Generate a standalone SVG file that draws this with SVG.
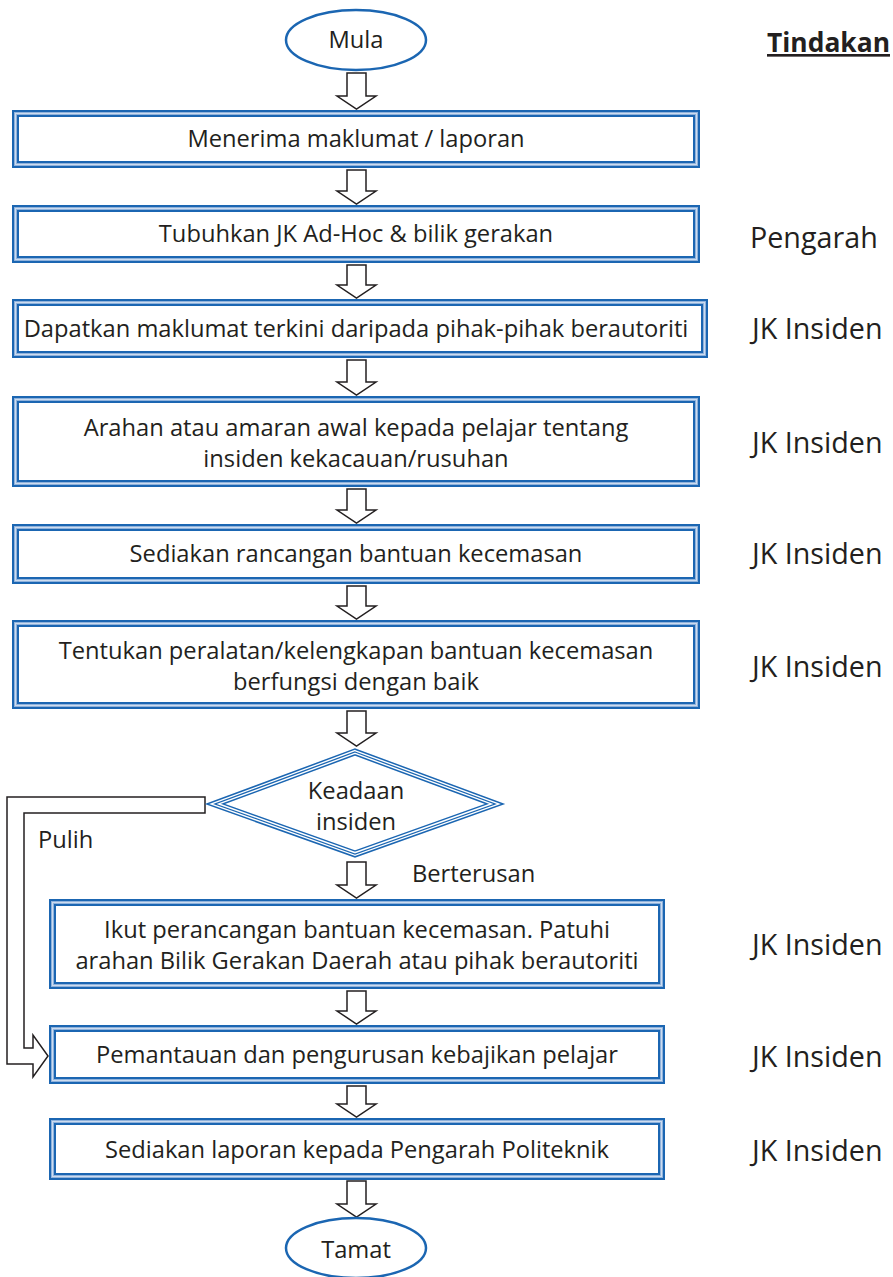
<svg xmlns="http://www.w3.org/2000/svg" width="893" height="1277" viewBox="0 0 893 1277">
<style>
text{font-family:"Open Sans","Noto Sans","Liberation Sans",sans-serif;font-size:23.7px;fill:#231f20}
.c{text-anchor:middle}
.r{font-size:28.7px}
.b1{fill:none;stroke:#1b66b2;stroke-width:7}
.b2{fill:none;stroke:#8fb2dc;stroke-width:3}
.b3{fill:none;stroke:#cddcef;stroke-width:1}
.d1{fill:#fff;stroke:#1b66b2;stroke-width:7;stroke-linejoin:miter}
.d2{fill:none;stroke:#fff;stroke-width:4}
.d3{fill:none;stroke:#1b66b2;stroke-width:1.3}
.el{fill:#fff;stroke:#1b66b2;stroke-width:2.5}
.ar{fill:#fff;stroke:#231f20;stroke-width:1.5;stroke-linejoin:miter}
</style>
<g id="connectors">
<polygon class="ar" points="347,73 366,73 366,96 376,96 356.5,109 337,96 347,96"/>
<polygon class="ar" points="347,170 366,170 366,191 376,191 356.5,204 337,191 347,191"/>
<polygon class="ar" points="347,265 366,265 366,285 376,285 356.5,298 337,285 347,285"/>
<polygon class="ar" points="347,360 366,360 366,382 376,382 356.5,395 337,382 347,382"/>
<polygon class="ar" points="347,489 366,489 366,510 376,510 356.5,523 337,510 347,510"/>
<polygon class="ar" points="347,586 366,586 366,606 376,606 356.5,619 337,606 347,606"/>
<polygon class="ar" points="347,711 366,711 366,733 376,733 356.5,746 337,733 347,733"/>
<polygon class="ar" points="347,862 366,862 366,885 376,885 356.5,898 337,885 347,885"/>
<polygon class="ar" points="347,991 366,991 366,1011 376,1011 356.5,1024 337,1011 347,1011"/>
<polygon class="ar" points="347,1086 366,1086 366,1104 376,1104 356.5,1117 337,1104 347,1104"/>
<polygon class="ar" points="347,1181 366,1181 366,1204 376,1204 356.5,1217 337,1204 347,1204"/>
<polygon class="ar" points="205,797 7,797 7,1064 33,1064 33,1077 48,1056 33,1035 33,1048 24,1048 24,813 205,813"/>
<text x="38" y="848">Pulih</text>
<text x="412" y="882">Berterusan</text>
</g>
<g id="mula">
<ellipse class="el" cx="356" cy="40" rx="70" ry="30"/>
<text class="c" x="356" y="48">Mula</text>
</g>
<g id="tindakan">
<text x="767" y="52" style="font-size:26.4px;font-weight:bold;text-decoration:underline">Tindakan</text>
</g>
<g id="box1">
<rect class="b1" x="15.5" y="113.5" width="681" height="51"/>
<rect class="b2" x="15.5" y="113.5" width="681" height="51"/>
<rect class="b3" x="15.5" y="113.5" width="681" height="51"/>
<text class="c" x="356" y="147">Menerima maklumat / laporan</text>
</g>
<g id="box2">
<rect class="b1" x="15.5" y="208.5" width="681" height="51"/>
<rect class="b2" x="15.5" y="208.5" width="681" height="51"/>
<rect class="b3" x="15.5" y="208.5" width="681" height="51"/>
<text class="c" x="356" y="242">Tubuhkan JK Ad-Hoc &amp; bilik gerakan</text>
<text class="r" x="750" y="248">Pengarah</text>
</g>
<g id="box3">
<rect class="b1" x="15.5" y="302.5" width="689" height="52"/>
<rect class="b2" x="15.5" y="302.5" width="689" height="52"/>
<rect class="b3" x="15.5" y="302.5" width="689" height="52"/>
<text class="c" x="356" y="337">Dapatkan maklumat terkini daripada pihak-pihak berautoriti</text>
<text class="r" x="752" y="339">JK Insiden</text>
</g>
<g id="box4">
<rect class="b1" x="15.5" y="399.5" width="681" height="84"/>
<rect class="b2" x="15.5" y="399.5" width="681" height="84"/>
<rect class="b3" x="15.5" y="399.5" width="681" height="84"/>
<text class="c" x="356" y="436">Arahan atau amaran awal kepada pelajar tentang</text>
<text class="c" x="356" y="467">insiden kekacauan/rusuhan</text>
<text class="r" x="752" y="453">JK Insiden</text>
</g>
<g id="box5">
<rect class="b1" x="15.5" y="527.5" width="681" height="53"/>
<rect class="b2" x="15.5" y="527.5" width="681" height="53"/>
<rect class="b3" x="15.5" y="527.5" width="681" height="53"/>
<text class="c" x="356" y="562">Sediakan rancangan bantuan kecemasan</text>
<text class="r" x="752" y="564">JK Insiden</text>
</g>
<g id="box6">
<rect class="b1" x="15.5" y="623.5" width="681" height="82"/>
<rect class="b2" x="15.5" y="623.5" width="681" height="82"/>
<rect class="b3" x="15.5" y="623.5" width="681" height="82"/>
<text class="c" x="356" y="659">Tentukan peralatan/kelengkapan bantuan kecemasan</text>
<text class="c" x="356" y="690">berfungsi dengan baik</text>
<text class="r" x="752" y="677">JK Insiden</text>
</g>
<g id="diamond">
<polygon class="d1" points="355,752 495,804 355,854 215,804"/>
<polygon class="d2" points="355,752 495,804 355,854 215,804"/>
<polygon class="d3" points="355,752 495,804 355,854 215,804"/>
<text class="c" x="356" y="799">Keadaan</text>
<text class="c" x="356" y="830">insiden</text>
</g>
<g id="box7">
<rect class="b1" x="52.5" y="902.5" width="609" height="83"/>
<rect class="b2" x="52.5" y="902.5" width="609" height="83"/>
<rect class="b3" x="52.5" y="902.5" width="609" height="83"/>
<text class="c" x="357" y="938">Ikut perancangan bantuan kecemasan. Patuhi</text>
<text class="c" x="357" y="969">arahan Bilik Gerakan Daerah atau pihak berautoriti</text>
<text class="r" x="752" y="955">JK Insiden</text>
</g>
<g id="box8">
<rect class="b1" x="52.5" y="1028.5" width="609" height="52"/>
<rect class="b2" x="52.5" y="1028.5" width="609" height="52"/>
<rect class="b3" x="52.5" y="1028.5" width="609" height="52"/>
<text class="c" x="357" y="1063">Pemantauan dan pengurusan kebajikan pelajar</text>
<text class="r" x="752" y="1067">JK Insiden</text>
</g>
<g id="box9">
<rect class="b1" x="52.5" y="1121.5" width="609" height="55"/>
<rect class="b2" x="52.5" y="1121.5" width="609" height="55"/>
<rect class="b3" x="52.5" y="1121.5" width="609" height="55"/>
<text class="c" x="357" y="1158">Sediakan laporan kepada Pengarah Politeknik</text>
<text class="r" x="752" y="1161">JK Insiden</text>
</g>
<g id="tamat">
<ellipse class="el" cx="356" cy="1248" rx="70" ry="30"/>
<text class="c" x="356" y="1258">Tamat</text>
</g>
</svg>
